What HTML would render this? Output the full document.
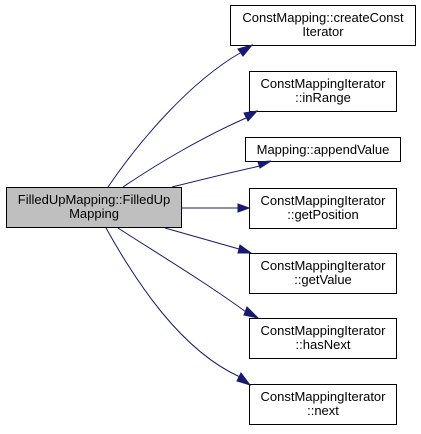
<!DOCTYPE html>
<html><head><style>body{margin:0;background:#fff}text{font-family:"Liberation Sans",Arial,sans-serif;font-size:13px;fill:#000}</style></head>
<body>
<svg width="421" height="429" viewBox="0 0 421 429" xmlns="http://www.w3.org/2000/svg">
<g fill="#fff" stroke="#000" stroke-width="1">
<rect x="6.5" y="187.5" width="175" height="40" fill="#bfbfbf"/>
<rect x="230.5" y="5.5" width="185" height="40"/>
<rect x="249.5" y="71.5" width="147" height="40"/>
<rect x="245.5" y="137.5" width="155" height="24"/>
<rect x="249.5" y="188.5" width="147" height="40"/>
<rect x="249.5" y="253.5" width="147" height="40"/>
<rect x="249.5" y="318.5" width="147" height="40"/>
<rect x="249.5" y="384.5" width="147" height="40"/>
</g>
<g fill="none" stroke="#191970" stroke-width="1">
<path d="M108,187 C140,140 190,82 240,53"/>
<path d="M123,187 C160,162 205,136 246,118"/>
<path d="M172,187 C200,180 232,172 260,166"/>
<path d="M181,208 L238,208"/>
<path d="M165,228 C190,235 215,242 239,249"/>
<path d="M118,228 C155,252 205,282 246,312"/>
<path d="M106,228 C135,280 180,350 240,377"/>
</g>
<g fill="#191970" stroke="#191970">
<polygon points="238,49 252,45 243,56"/>
<polygon points="244,113 257,111 248,121"/>
<polygon points="258,162 271,161 260,168"/>
<polygon points="238,204 249,208 238,212"/>
<polygon points="240,245 251,253 238,253"/>
<polygon points="247,307 258,318 244,315"/>
<polygon points="241,373 250,385 237,381"/>
</g>
<text x="94" y="204" text-anchor="middle">FilledUpMapping::FilledUp</text>
<text x="94" y="218" text-anchor="middle">Mapping</text>
<text x="323" y="22" text-anchor="middle">ConstMapping::createConst</text>
<text x="323" y="36" text-anchor="middle">Iterator</text>
<text x="323" y="88" text-anchor="middle">ConstMappingIterator</text>
<text x="323" y="102" text-anchor="middle">::inRange</text>
<text x="323" y="154" text-anchor="middle">Mapping::appendValue</text>
<text x="323" y="205" text-anchor="middle">ConstMappingIterator</text>
<text x="323" y="219" text-anchor="middle">::getPosition</text>
<text x="323" y="270" text-anchor="middle">ConstMappingIterator</text>
<text x="323" y="284" text-anchor="middle">::getValue</text>
<text x="323" y="335" text-anchor="middle">ConstMappingIterator</text>
<text x="323" y="349" text-anchor="middle">::hasNext</text>
<text x="323" y="401" text-anchor="middle">ConstMappingIterator</text>
<text x="323" y="415" text-anchor="middle">::next</text>
</svg>
</body></html>
